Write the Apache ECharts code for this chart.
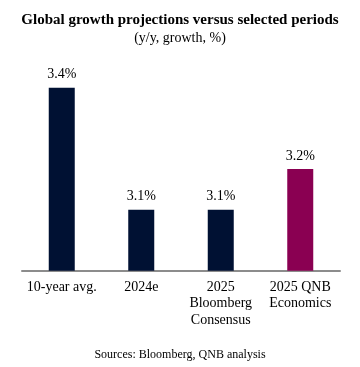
<!DOCTYPE html>
<html>
<head>
<meta charset="utf-8">
<script src="https://cdn.jsdelivr.net/npm/echarts@6/dist/echarts.min.js"></script>
<style>
html,body{margin:0;padding:0;background:#fff;}
#c{width:360px;height:367px;}
</style>
</head>
<body>
<div id="c"></div>
<script>
var categories = ['10-year avg.', '2024e', '2025\nBloomberg\nConsensus', '2025 QNB\nEconomics'];
var values = [3.4, 3.1, 3.1, 3.2];
var barColors = ['#001133', '#001133', '#001133', '#8a0052'];

var chart = echarts.init(document.getElementById('c'), null, {renderer: 'canvas'});
var serif = '"Liberation Serif", "Times New Roman", serif';
chart.setOption({
  animation: false,
  backgroundColor: '#fff',
  title: [{
    text: 'Global growth projections versus selected periods',
    subtext: '(y/y, growth, %)',
    left: 'center',
    top: 8,
    itemGap: 3,
    textStyle: {fontFamily: serif, fontSize: 15, fontWeight: 'bold', color: '#000'},
    subtextStyle: {fontFamily: serif, fontSize: 14, color: '#000'}
  }, {
    text: 'Sources: Bloomberg, QNB analysis',
    left: 'center',
    top: 344,
    textStyle: {fontFamily: serif, fontSize: 12, fontWeight: 'normal', color: '#000'}
  }],
  grid: {left: 22, right: 20, top: 47, bottom: 96.3, containLabel: false},
  xAxis: {
    type: 'category',
    data: categories,
    axisLine: {show: true, lineStyle: {color: '#8c8c8c', width: 2}},
    axisTick: {show: false},
    axisLabel: {fontFamily: serif, fontSize: 14, color: '#000', lineHeight: 16.5, margin: 8, interval: 0}
  },
  yAxis: {
    type: 'value',
    min: 2.95,
    max: 3.5,
    show: false,
    splitLine: {show: false}
  },
  series: [{
    type: 'bar',
    data: values.map(function (v, i) { return {value: v, itemStyle: {color: barColors[i]}}; }),
    barWidth: 26,
    z: 1,
    label: {
      show: true,
      position: 'top',
      distance: 6,
      fontFamily: serif,
      fontSize: 14,
      color: '#000',
      formatter: function (p) { return p.value.toFixed(1) + '%'; }
    }
  }]
});
</script>
</body>
</html>
